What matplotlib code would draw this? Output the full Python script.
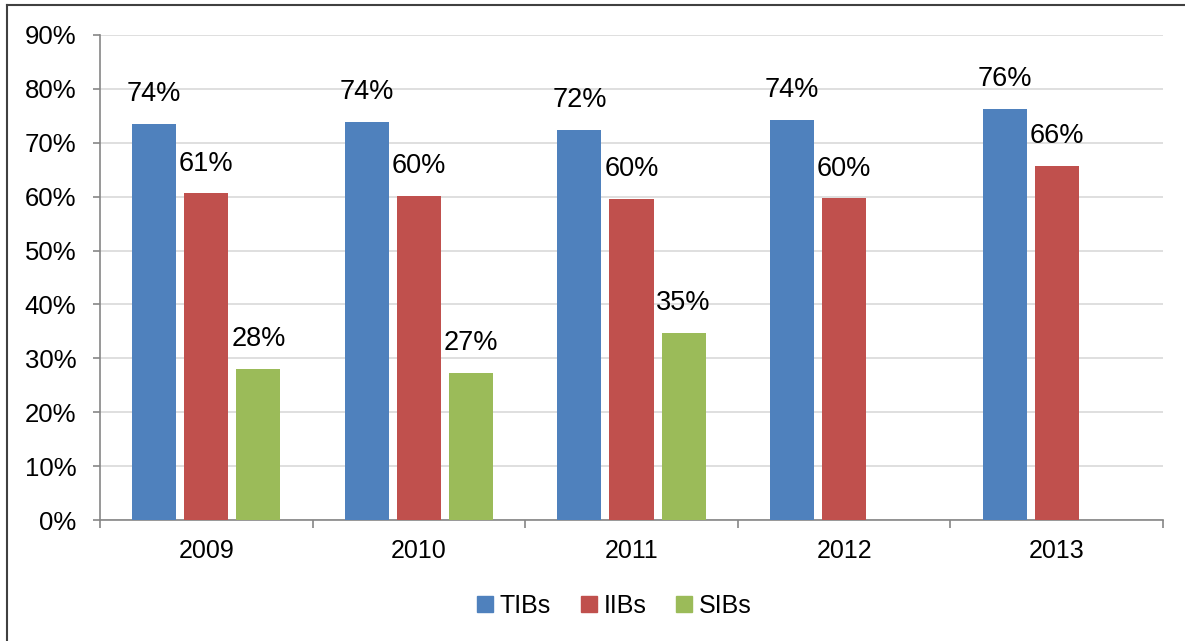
import numpy as np
import matplotlib.pyplot as plt
from matplotlib.lines import Line2D

#%% Data

years   = ['2009', '2010', '2011', '2012', '2013']
series  = ['TIBs', 'IIBs', 'SIBs']
tibs    = [73.5, 73.9, 72.4, 74.2, 76.3]
iibs    = [60.6, 60.1, 59.6, 59.7, 65.7]
sibs    = [28.0, 27.3, 34.7, np.nan, np.nan]
colors  = ['#4F81BD', '#C0504D', '#9BBB59']

#%% Plot

plt.rcParams['font.family'] = ['Liberation Sans', 'DejaVu Sans']

fig = plt.figure(figsize=(11.85, 6.41), dpi=100)
ax = fig.add_axes([100/1185, 1 - 520/641, 1063/1185, 485/641])

x = np.arange(len(years))
width = 0.207
step = 0.245

for k, (vals, col, name) in enumerate(zip([tibs, iibs, sibs], colors, series)):
    pos = x + (k - 1) * step
    ax.bar(pos, vals, width, color=col, label=name, zorder=3)
    for p, v in zip(pos, vals):
        if np.isnan(v):
            continue
        ax.annotate('%d%%' % round(v), (p, v), xytext=(0, 12), textcoords='offset points',
                    ha='center', va='bottom', fontsize=19.5)

ax.set_xlim(-0.5, len(years) - 0.5)
ax.set_ylim(0, 90)
ax.set_yticks(np.arange(0, 91, 10))
ax.set_yticklabels(['%d%%' % v for v in range(0, 91, 10)], fontsize=18.5)
ax.set_xticks(x)
ax.set_xticklabels(years, fontsize=18)
ax.set_xticks(np.arange(-0.5, len(years)), minor=True)

ax.tick_params(axis='x', which='major', length=0, pad=14)
ax.tick_params(axis='x', which='minor', length=6, width=1.2, color='#868686', direction='out')
ax.tick_params(axis='y', length=5, width=1.2, color='#868686', direction='out', pad=12)

ax.grid(True, axis='y', color='#D9D9D9', linewidth=1.2, zorder=0)
for s in ['top', 'right']:
    ax.spines[s].set_visible(False)
for s in ['left', 'bottom']:
    ax.spines[s].set_color('#868686')
    ax.spines[s].set_linewidth(1.2)

handles = [Line2D([], [], marker='s', linestyle='none', markersize=11, color=c) for c in colors]
fig.legend(handles, series, loc='center', bbox_to_anchor=(612/1185, 1 - 606/641), ncol=3,
           frameon=False, fontsize=18, handletextpad=0.1, columnspacing=1.0, handlelength=1.0)

# outer frame (top and left edges visible)
fig.add_artist(Line2D([7/1185, 1.0], [1 - 5/641, 1 - 5/641], transform=fig.transFigure,
                      color='#404040', linewidth=1.5))
fig.add_artist(Line2D([7/1185, 7/1185], [0.0, 1 - 5/641], transform=fig.transFigure,
                      color='#404040', linewidth=1.5))

plt.savefig('out.png', dpi=100)
